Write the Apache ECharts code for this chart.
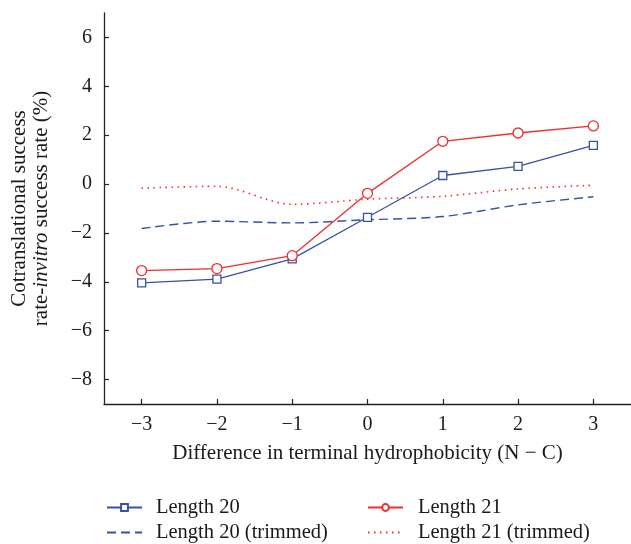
<!DOCTYPE html>
<html>
<head>
<meta charset="utf-8">
<script src="https://cdn.jsdelivr.net/npm/echarts@6/dist/echarts.min.js"></script>
<style>
  html, body { margin: 0; padding: 0; background: #fff; }
  #chart { width: 631px; height: 544px; }
</style>
</head>
<body>
<div id="chart"></div>
<script>
// Difference in terminal hydrophobicity (N − C)
const categories = ['−3', '−2', '−1', '0', '1', '2', '3'];

// Cotranslational minus in-vitro success rate (%)
const length20 = [-4.04, -3.89, -3.06, -1.36, 0.35, 0.72, 1.58];
const length21 = [-3.54, -3.46, -2.93, -0.38, 1.75, 2.09, 2.38];
const length20Trimmed = [-1.82, -1.52, -1.59, -1.46, -1.33, -0.85, -0.52];
const length21Trimmed = [-0.17, -0.09, -0.83, -0.62, -0.50, -0.20, -0.05];

// y-axis tick labels
const yTicks = [-8, -6, -4, -2, 0, 2, 4, 6];

const BLUE = '#3553a6';
const RED = '#ee2d2d';
const FONT = '"Liberation Serif", "DejaVu Serif", serif';
const TEXT = '#1a1a1a';

const chart = echarts.init(document.getElementById('chart'), null, { renderer: 'canvas' });

const fmtMinus = v => String(v).replace('-', '−');

const legendText = pad => ({ fontFamily: FONT, fontSize: 20.5, color: TEXT, padding: [0, 0, 0, pad] });

chart.setOption({
  backgroundColor: '#fff',
  animation: false,
  grid: { left: 103, top: 13, right: -1, bottom: 140, containLabel: false },
  legend: [
    {
      data: ['Length 20', 'Length 20 (trimmed)'],
      orient: 'vertical',
      left: 106, top: 497, height: 60,
      padding: 0,
      itemWidth: 35, itemHeight: 8.5, itemGap: 4,
      textStyle: legendText(9)
    },
    {
      data: ['Length 21', 'Length 21 (trimmed)'],
      orient: 'vertical',
      left: 367, top: 497, height: 60,
      padding: 0,
      itemWidth: 35, itemHeight: 8.5, itemGap: 4,
      textStyle: legendText(10)
    }
  ],
  xAxis: {
    type: 'category',
    data: categories,
    boundaryGap: true,
    name: 'Difference in terminal hydrophobicity (N − C)',
    nameLocation: 'middle',
    nameGap: 39,
    nameTextStyle: { fontFamily: FONT, fontSize: 21, color: TEXT },
    axisLine: { show: true, onZero: false, lineStyle: { color: '#222', width: 1.3 } },
    axisTick: { show: true, inside: true, length: 5, alignWithLabel: true, lineStyle: { color: '#222', width: 1.2 } },
    axisLabel: { fontFamily: FONT, fontSize: 20, color: TEXT, margin: 11 },
    splitLine: { show: false }
  },
  yAxis: {
    type: 'value',
    min: -9,
    max: 7,
    name: '{n|Cotranslational success}\n{n|rate-}{i|invitro}{n| success rate (%)}',
    nameLocation: 'middle',
    nameGap: 52,
    nameRotate: 90,
    nameTextStyle: {
      fontFamily: FONT, fontSize: 21, color: TEXT, lineHeight: 22,
      rich: {
        n: { fontFamily: FONT, fontSize: 21, color: TEXT, lineHeight: 22 },
        i: { fontFamily: FONT, fontSize: 21, color: TEXT, lineHeight: 22, fontStyle: 'italic' }
      }
    },
    axisLine: { show: true, onZero: false, lineStyle: { color: '#222', width: 1.3 } },
    axisTick: { show: true, inside: true, length: 5, customValues: yTicks, lineStyle: { color: '#222', width: 1.2 } },
    axisLabel: { fontFamily: FONT, fontSize: 20, color: TEXT, margin: 12, customValues: yTicks, formatter: fmtMinus },
    splitLine: { show: false }
  },
  series: [
    {
      name: 'Length 20 (trimmed)',
      type: 'line',
      data: length20Trimmed,
      smooth: 0.3,
      symbol: 'none',
      lineStyle: { color: BLUE, width: 1.4, type: [9, 5] },
      itemStyle: { color: BLUE, opacity: 0 }
    },
    {
      name: 'Length 21 (trimmed)',
      type: 'line',
      data: length21Trimmed,
      smooth: 0.3,
      symbol: 'none',
      lineStyle: { color: RED, width: 1.6, type: [1.5, 4.5] },
      itemStyle: { color: RED, opacity: 0 }
    },
    {
      name: 'Length 20',
      type: 'line',
      data: length20,
      symbol: 'rect',
      symbolSize: 8,
      lineStyle: { color: BLUE, width: 1.3 },
      itemStyle: { color: '#fff', borderColor: BLUE, borderWidth: 1.3 }
    },
    {
      name: 'Length 21',
      type: 'line',
      data: length21,
      symbol: 'circle',
      symbolSize: 10,
      lineStyle: { color: RED, width: 1.3 },
      itemStyle: { color: '#fff', borderColor: RED, borderWidth: 1.3 }
    }
  ]
});
</script>
</body>
</html>
